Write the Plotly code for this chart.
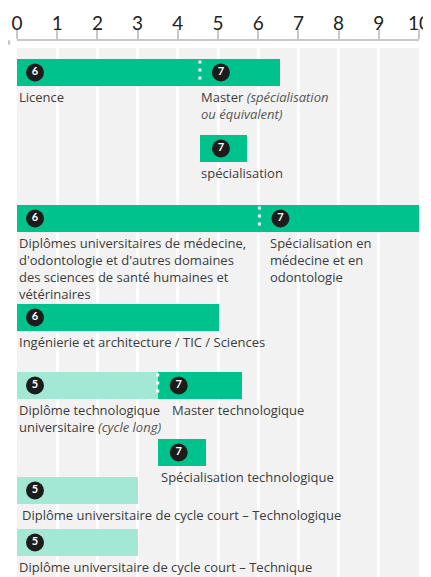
import plotly.graph_objects as go

# Data
# ---------------------------------------------------------
ticks = list(range(0, 11))

# one entry per bar segment
seg_row = [0, 0, 1, 2, 2, 3, 4, 4, 5, 6, 7]
seg_start = [0, 4.55, 4.55, 0, 6.03, 0, 0, 3.5, 3.5, 0, 0]
seg_end = [4.55, 6.55, 5.72, 6.03, 10, 5.02, 3.5, 5.6, 4.7, 3.0, 3.0]
seg_level = [6, 7, 7, 6, 7, 6, 5, 7, 7, 5, 5]
seg_label = [
    "Licence",
    "Master <i style='color:#555'>(spécialisation<br>ou équivalent)</i>",
    "spécialisation",
    "Diplômes universitaires de médecine,<br>d'odontologie et d'autres domaines<br>"
    "des sciences de santé humaines et<br>vétérinaires",
    "Spécialisation en<br>médecine et en<br>odontologie",
    "Ingénierie et architecture / TIC / Sciences",
    "Diplôme technologique<br>universitaire <i style='color:#555'>(cycle long)</i>",
    "Master technologique",
    "Spécialisation technologique",
    "Diplôme universitaire de cycle court – Technologique",
    "Diplôme universitaire de cycle court – Technique",
]

# Layout helpers (pixel positions of rows, label shifts)
# ---------------------------------------------------------
row_y = [72.5, 148.5, 218.5, 317.5, 385.5, 452.5, 490.5, 542.5]
bar_h = 27
label_shift = [2, 1, 1, 2, 11, 2, 2, 14, 3, 5, 2]
colors = {5: "#a3e8d5", 6: "#00c28c", 7: "#00c28c"}
px_per_unit = 402 / 10
page_pad = 8  # default body margin of the html page

fig = go.Figure()

# bars
fig.add_trace(go.Bar(
    orientation="h",
    y=[row_y[r] for r in seg_row],
    base=seg_start,
    x=[e - s for s, e in zip(seg_start, seg_end)],
    width=bar_h,
    marker=dict(color=[colors[l] for l in seg_level], line=dict(width=0)),
    hoverinfo="skip",
))

# level badges
badge_x = [s + (18 if s == 0 else 21) / px_per_unit for s in seg_start]
fig.add_trace(go.Scatter(
    x=badge_x,
    y=[row_y[r] for r in seg_row],
    mode="markers+text",
    marker=dict(size=18, color="#1c1c1c"),
    text=[str(l) for l in seg_level],
    textfont=dict(family="Lato", size=11, color="white", weight="bold"),
    textposition="middle center",
    hoverinfo="skip",
    cliponaxis=False,
))

# dotted separators between consecutive segments of the same row
for i in range(1, len(seg_row)):
    if seg_row[i] == seg_row[i - 1] and seg_start[i] == seg_end[i - 1]:
        yc = row_y[seg_row[i]]
        fig.add_shape(type="line", x0=seg_start[i], x1=seg_start[i],
                      y0=yc - 12, y1=yc + 12,
                      line=dict(color="white", width=3, dash="3px,5px"))

# labels under the bars
for i in range(len(seg_row)):
    fig.add_annotation(
        x=seg_start[i], y=row_y[seg_row[i]] + bar_h / 2,
        xanchor="left", yanchor="top", xshift=label_shift[i] - 2,
        text=seg_label[i], showarrow=False, align="left",
        font=dict(family="Open Sans", size=13, color="#3c3c3c"),
    )

# gray column background
fig.add_shape(type="rect", x0=0, x1=10, y0=48, y1=577, layer="below",
              fillcolor="#f2f2f2", line=dict(width=0))

# small dot at left of axis
fig.add_shape(type="circle", xref="paper", yref="paper",
              xsizemode="pixel", ysizemode="pixel",
              xanchor=-9 / 402, yanchor=1 - 1.5 / 536,
              x0=-2.5, x1=2.5, y0=-2.5, y1=2.5,
              fillcolor="#c8c8c8", line=dict(width=0))

fig.update_layout(
    width=431 - page_pad, height=577 - page_pad,
    margin=dict(l=17 - page_pad, r=12, t=41 - page_pad, b=0, autoexpand=False),
    plot_bgcolor="white", paper_bgcolor="white",
    showlegend=False,
    bargap=0,
    xaxis=dict(
        side="top", range=[0, 10], tickvals=ticks,
        showline=True, linecolor="#c8c8c8", linewidth=2,
        ticks="outside", ticklen=10, tickwidth=2, tickcolor="#c8c8c8",
        ticklabelstandoff=-9,
        showgrid=True, gridcolor="white", gridwidth=3,
        zeroline=False, fixedrange=True, automargin=False,
        tickfont=dict(family="Lato", size=19, color="#222"),
    ),
    yaxis=dict(range=[577, 41], visible=False, fixedrange=True,
               automargin=False),
)

fig.write_html("out.html")
